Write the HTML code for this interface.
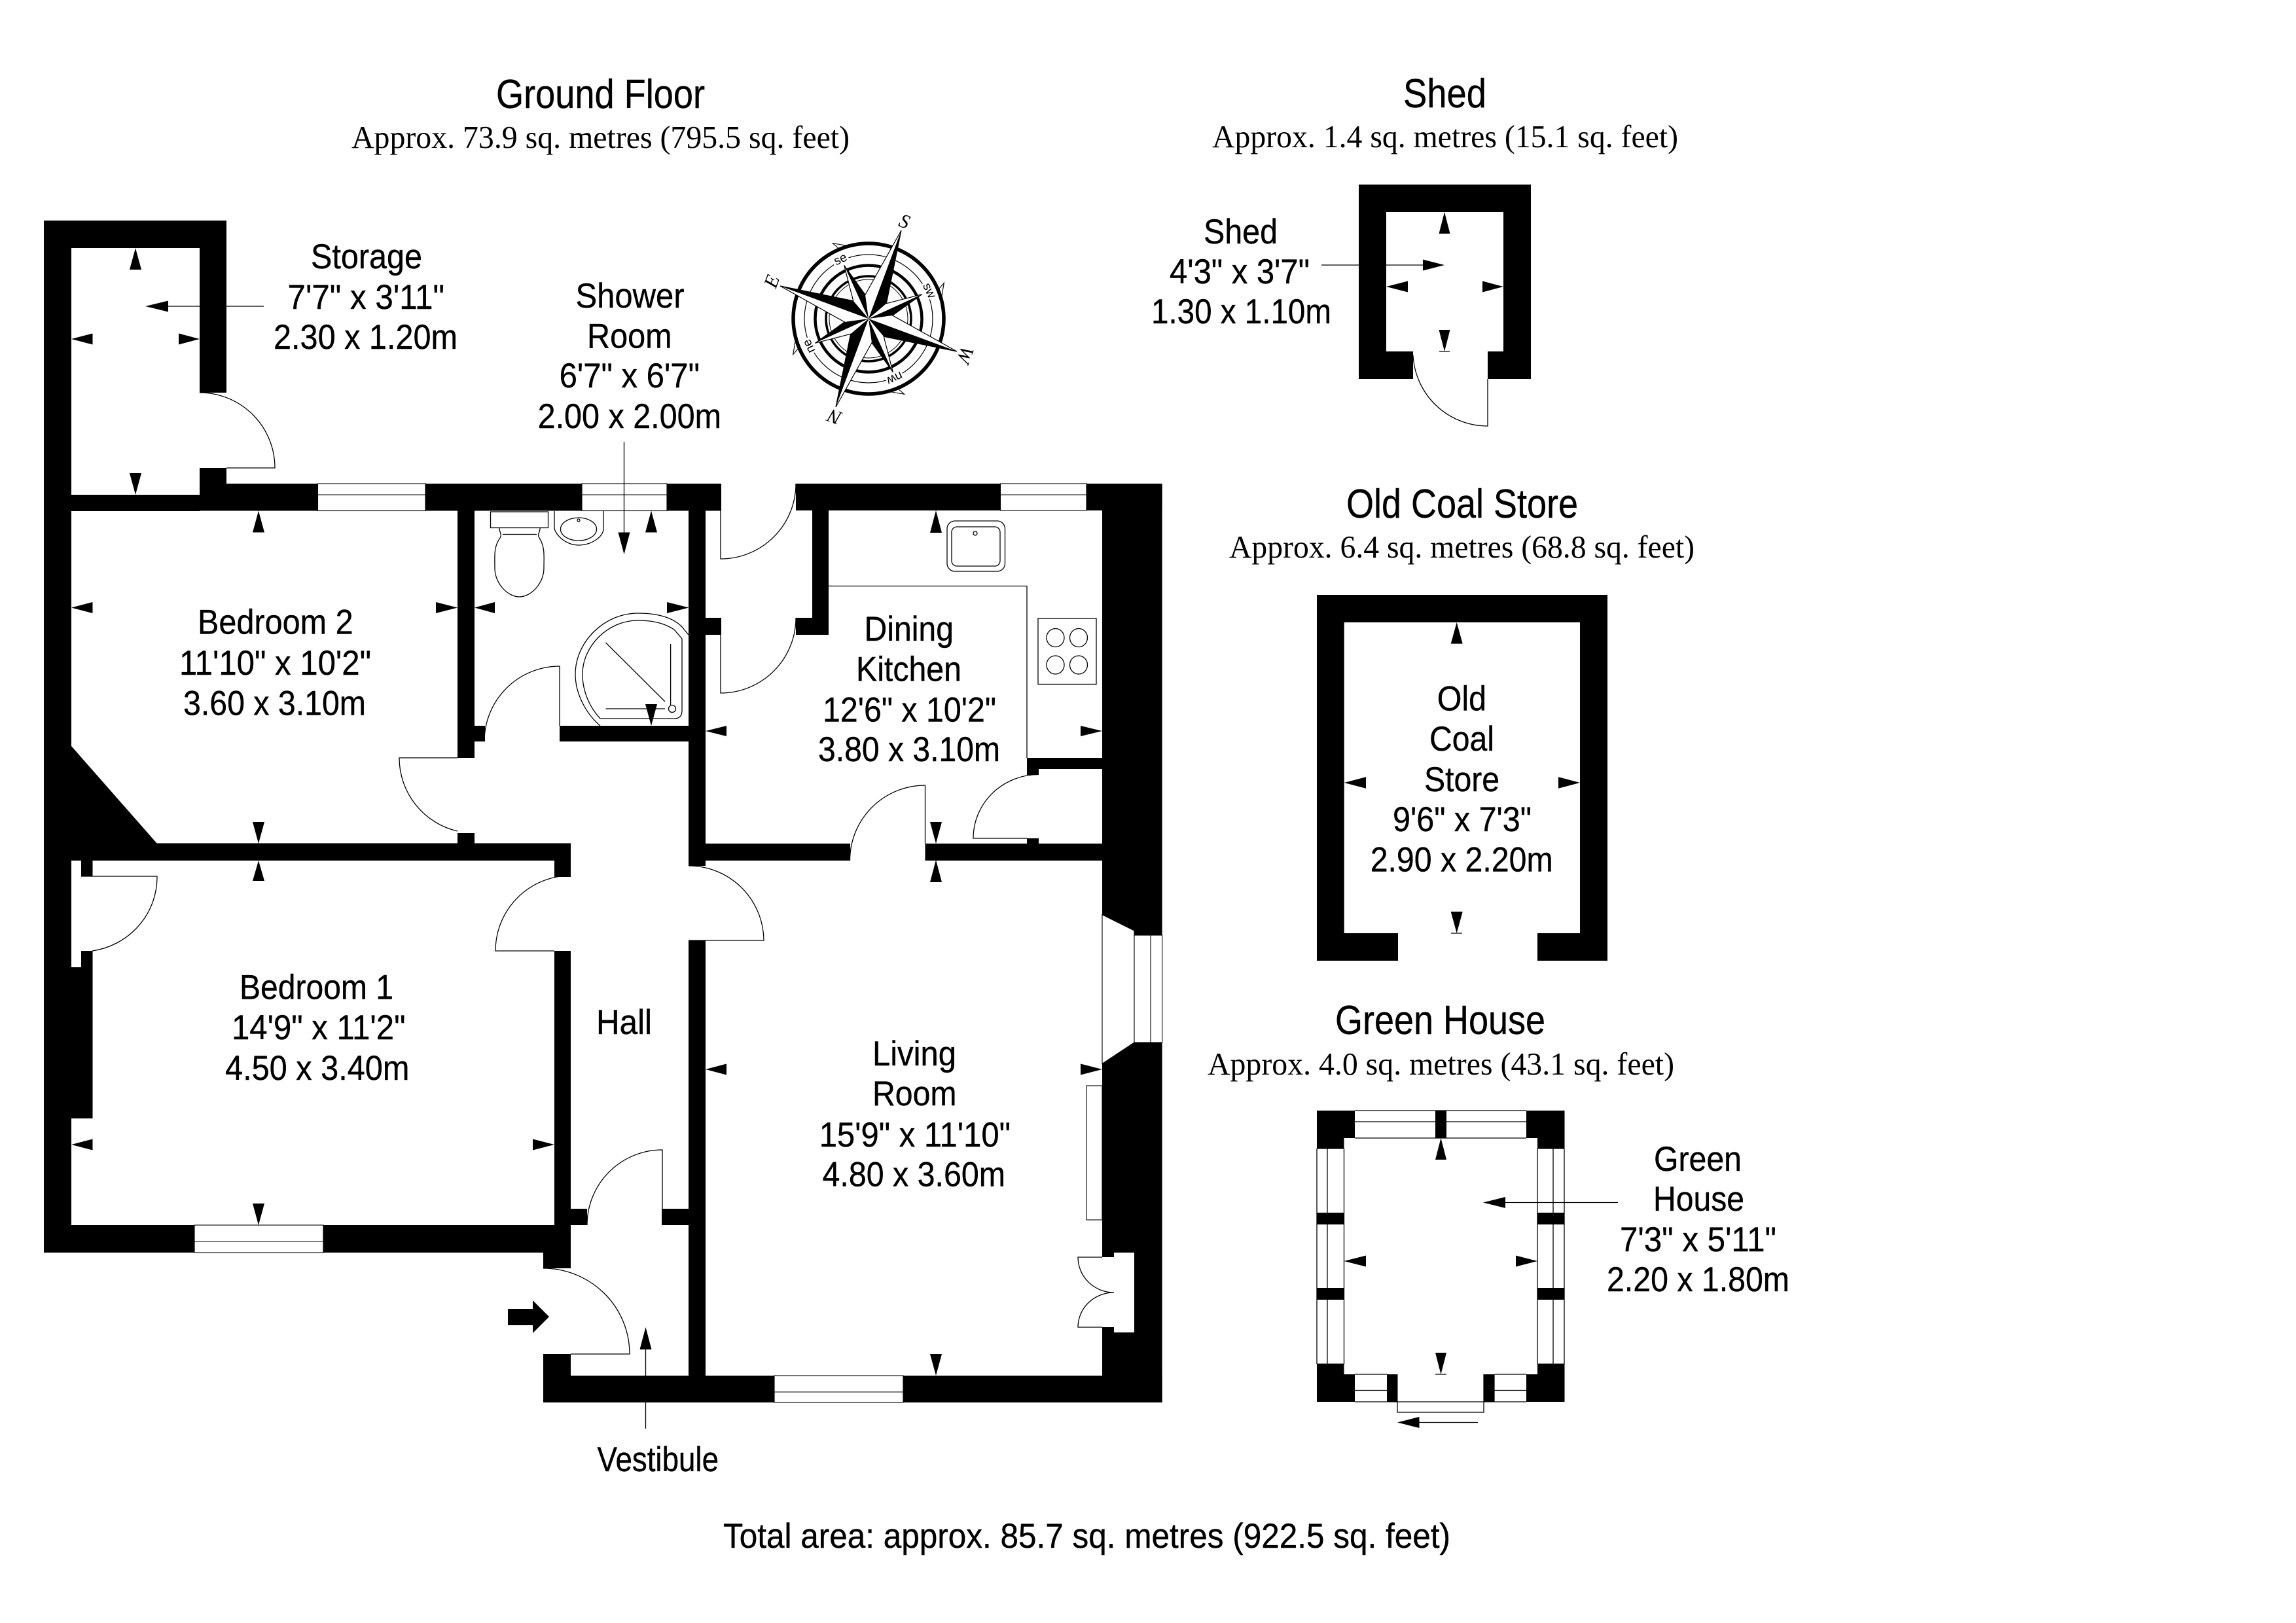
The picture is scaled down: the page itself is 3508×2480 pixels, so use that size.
<!DOCTYPE html>
<html><head><meta charset="utf-8"><title>Floor plan</title>
<style>
html,body{margin:0;padding:0;background:#fff}
svg{display:block}
.s{font-family:"Liberation Sans",Arial,sans-serif;fill:#000;stroke:#000;stroke-width:.4;font-size:53px}
.t{font-family:"Liberation Sans",Arial,sans-serif;fill:#000;stroke:#000;stroke-width:.4;font-size:62px}
.r{font-family:"Liberation Serif","Times New Roman",serif;fill:#000;font-size:49px}
.l{fill:none;stroke:#000;stroke-width:1.3}
.w{fill:#fff;stroke:#000;stroke-width:1.1}
.g{fill:#fff;stroke:#000;stroke-width:1.6}
.c{fill:#fff;stroke:#000;stroke-width:1.2}
</style></head><body>
<svg xmlns="http://www.w3.org/2000/svg" width="3508" height="2480" viewBox="0 0 3508 2480">
<rect width="3508" height="2480" fill="#fff"/>

<!-- door swings and thin lines -->
<path class="l" d="M305 600A115 115 0 0 1 420 715H346
M855 1109V1018A115 115 0 0 0 740 1133
M699 1158H610A115 115 0 0 0 699 1270
M124 1339H240A116 114 0 0 1 141 1453
M847 1453H757A115 115 0 0 1 872 1338
M1012 1847V1757A115 115 0 0 0 897 1872
M830 1938A132 131 0 0 1 962 2069H872
M1101 780V854A115 115 0 0 0 1216 739
M1101 970V1059A115 115 0 0 0 1216 944
M1413.5 1289V1200A115 115 0 0 0 1298.5 1315
M1587 1183.5A100 97.5 0 0 0 1487 1281H1569
M1052 1323A115 115 0 0 1 1167 1437H1052
M2159 543A114 114 0 0 0 2273 651V579
M1266 895.5H1569V1158"/>

<!-- ground floor walls -->
<g fill="#000">
<rect x="67" y="337" width="279" height="42"/>
<rect x="67" y="337" width="42" height="1577"/>
<rect x="305" y="337" width="41" height="263"/>
<rect x="305" y="715" width="41" height="24"/>
<rect x="109" y="756" width="196" height="25"/>
<rect x="305" y="739" width="181" height="41.5"/>
<rect x="650" y="739" width="239" height="41.5"/>
<rect x="1019" y="739" width="83" height="41.5"/>
<rect x="699" y="780" width="26" height="378"/>
<rect x="725" y="1109" width="16" height="24"/>
<rect x="699" y="1273" width="26" height="16"/>
<rect x="109" y="1288.5" width="763" height="26.5"/>
<polygon points="109,1140 240,1289 240,1315 109,1315"/>
<rect x="124" y="1315" width="17.5" height="24"/>
<rect x="124" y="1453" width="17.5" height="25"/>
<rect x="67" y="1478" width="74.5" height="231"/>
<rect x="847" y="1315" width="25" height="25"/>
<rect x="847" y="1453" width="25" height="461"/>
<rect x="67" y="1872" width="230" height="42"/>
<rect x="494" y="1872" width="353" height="42"/>
<rect x="830" y="1914" width="42" height="24"/>
<rect x="872" y="1847" width="25" height="25"/>
<rect x="1011" y="1847" width="41" height="25"/>
<rect x="1052" y="780" width="26" height="543"/>
<rect x="1052" y="1437.5" width="26" height="665"/>
<rect x="1078" y="944" width="24" height="26"/>
<rect x="855" y="1109" width="197" height="24"/>
<rect x="1216" y="739" width="312.5" height="41"/>
<rect x="1660" y="739" width="115.6" height="41"/>
<rect x="1684" y="739" width="91.6" height="1404"/>
<rect x="1241" y="780" width="25" height="190"/>
<rect x="1216" y="944" width="50" height="26"/>
<rect x="1569" y="1158" width="115" height="17"/>
<rect x="1569" y="1175" width="18" height="9"/>
<rect x="1569" y="1281" width="18" height="8"/>
<rect x="1078" y="1289" width="221" height="26"/>
<rect x="1413.5" y="1289" width="270.5" height="26"/>
<rect x="830" y="2102" width="353" height="41"/>
<rect x="1380" y="2102" width="395.6" height="41"/>
<rect x="830" y="2069" width="42" height="33"/>
</g>

<!-- windows -->
<rect class="w" x="485.5" y="739" width="164.5" height="41.5"/><path class="w" d="M485.5 756H650"/>
<rect class="w" x="889" y="739" width="130" height="41.5"/><path class="w" d="M889 756H1019"/>
<rect class="w" x="1528.5" y="739" width="131.5" height="41"/><path class="w" d="M1528.5 756H1660"/>
<rect class="w" x="297" y="1872" width="197" height="42"/><path class="w" d="M297 1897H494"/>
<rect class="w" x="1183" y="2102" width="197" height="41"/><path class="w" d="M1183 2127H1380"/>

<!-- bay window -->
<polygon points="1684,1397.6 1733,1422 1733,1593 1684,1625.5" fill="#fff" stroke="#000" stroke-width="1.1"/>
<rect class="w" x="1733" y="1429" width="42.6" height="164"/><path class="w" d="M1758 1429V1593"/>
<rect class="w" x="1660" y="1659" width="24" height="205"/>

<!-- french door recess -->
<rect x="1684" y="1921" width="18.5" height="107" fill="#fff"/>
<rect x="1702" y="1914" width="31" height="122" fill="#fff"/>
<path class="l" d="M1684 1921H1647A55 54 0 0 0 1702 1975A55 53 0 0 0 1647 2028H1684"/>

<!-- fixtures -->
<rect class="l" x="749.5" y="782" width="88" height="24.5"/>
<path class="l" d="M763 806.5C762 812 768 816 764 822C754 836 756 850 756 868C756 892 776 912 793.5 912C811 912 831 892 831 868C831 850 833 836 824 822C820 816 826 812 825 806.5"/>
<path class="l" d="M768 816.5H820"/>
<path class="l" d="M847 781V808C852 822 868 833 884 833C904 833 922 820 922 808V781"/>
<ellipse class="l" cx="884" cy="808.6" rx="27.5" ry="17.5"/>
<circle class="l" cx="884" cy="795" r="2"/>
<path class="l" d="M1052 970L1042 958C1028 943 1003 937 975 937C922 937 879 982 879 1030C879 1060 895 1090 917 1109"/>
<path class="l" d="M917 1098H1030Q1042 1098 1042 1086V976L1030 962C1015 952 995 948 975 948C928 948 890 988 890 1030C890 1058 902 1082 917 1098"/>
<path class="l" d="M925.5 982L1016 1072M1024.6 984V1077M925.5 1083H1016"/>
<circle class="l" cx="1027" cy="1083" r="5.5"/>
<rect class="l" x="1447" y="796" width="88.5" height="77" rx="12"/>
<rect class="l" x="1454" y="805" width="74" height="60" rx="8"/>
<circle class="l" cx="1490" cy="815" r="3"/>
<rect class="l" x="1586" y="945" width="89" height="100.5"/>
<ellipse class="l" cx="1612.5" cy="974.5" rx="13.5" ry="14"/>
<ellipse class="l" cx="1648" cy="974.5" rx="13.5" ry="14"/>
<ellipse class="l" cx="1612.5" cy="1016" rx="13.5" ry="14"/>
<ellipse class="l" cx="1648" cy="1016" rx="13.5" ry="14"/>

<!-- ground floor arrows -->
<g fill="#000">
<polygon points="207,379 198,412 216,412"/><polygon points="207,756 198,723 216,723"/>
<polygon points="109,518 141.5,509.5 141.5,526.5"/><polygon points="305,518 273,509.5 273,526.5"/>
<polygon points="222,468 257,459.5 257,476.5"/>
<polygon points="395,780.5 386,813.5 404,813.5"/><polygon points="395,1289 386,1256 404,1256"/>
<polygon points="109,928.5 141.5,920 141.5,937"/><polygon points="699,928.5 666,920 666,937"/>
<polygon points="725,928.5 756,920 756,937"/><polygon points="1052.5,928.5 1019,920 1019,937"/>
<polygon points="995,780.5 986,813.5 1004,813.5"/><polygon points="995,1109 986,1076 1004,1076"/>
<polygon points="953.5,847 944.5,813.5 962.5,813.5"/>
<polygon points="395,1315 386,1346 404,1346"/><polygon points="395,1872 386,1839 404,1839"/>
<polygon points="109,1749 141.5,1740.5 141.5,1757.5"/><polygon points="847,1749 814,1740.5 814,1757.5"/>
<polygon points="1078,1117 1110,1109 1110,1125"/><polygon points="1684,1117 1651,1109 1651,1125"/>
<polygon points="1430,780 1421,814 1439,814"/><polygon points="1430,1289 1421,1256 1439,1256"/>
<polygon points="1430,1314 1421,1348 1439,1348"/><polygon points="1430,2102 1421,2069 1439,2069"/>
<polygon points="1078,1634 1110,1625.5 1110,1642.5"/><polygon points="1684,1634 1651,1625.5 1651,1642.5"/>
<polygon points="986.5,2028 977.5,2062 995.5,2062"/>
<polygon points="776,2000 814,2000 814,1987 839,2012 814,2037 814,2025 776,2025"/>
</g>
<path class="l" d="M257 468H403M953.5 675V813.5M986.5 2062V2183"/>

<!-- compass -->
<g transform="translate(1327,487)">
<g fill="#fff" stroke="#000" stroke-width="1.1">
<polygon points="-54.7,-115.3 -45,-107 -35,-112"/>
<polygon points="115.3,-54.7 107,-45 112,-35"/>
<polygon points="54.7,115.3 45,107 35,112"/>
<polygon points="-115.3,54.7 -107,45 -112,35"/>
</g>
<circle r="115" fill="#fff" stroke="#000" stroke-width="5.5"/>
<circle r="98" fill="none" stroke="#000" stroke-width="1.2"/>
<circle r="81.5" fill="none" stroke="#000" stroke-width="4.5"/>
<circle r="65" fill="none" stroke="#000" stroke-width="3.5"/>
<circle r="60" fill="none" stroke="#000" stroke-width="1"/>
<polygon class="c" points="50,-135 27.3,-23.3 81.7,-37.3 36.7,-5 135,50 23.3,27.3 37.3,81.7 5,36.7 -50,135 -27.3,23.3 -81.7,37.3 -36.7,5 -135,-50 -23.3,-27.3 -37.3,-81.7 -5,-36.7"/>
<g id="q" fill="#000"><polygon points="50,-135 36.7,-70 27.3,-23.3 0,0"/><polygon points="81.7,-37.3 36.7,-5 0,0"/></g>
<use href="#q" transform="rotate(90)"/>
<use href="#q" transform="rotate(180)"/>
<use href="#q" transform="rotate(270)"/>
</g>
<g font-family="'Liberation Serif',serif" font-style="italic" font-size="30" fill="#000" text-anchor="middle">
<text transform="translate(1382,338) rotate(20)" y="10">S</text>
<text transform="translate(1179,430) rotate(-70)" y="10">E</text>
<text transform="translate(1475,542) rotate(110)" y="10">W</text>
<text transform="translate(1275,637) rotate(200)" y="10">N</text>
</g>
<g font-family="'Liberation Sans',sans-serif" font-size="19" fill="#000" text-anchor="middle" stroke="#fff" stroke-width="6" paint-order="stroke">
<text transform="translate(1284,396) rotate(-25)" y="6">se</text>
<text transform="translate(1420,444) rotate(65)" y="6">sw</text>
<text transform="translate(1367,578) rotate(155)" y="6">nw</text>
<text transform="translate(1236,529) rotate(245)" y="6">ne</text>
</g>

<!-- shed -->
<path fill="#000" d="M2076 282H2339V579H2273V537H2297V324H2118V537H2159V579H2076Z"/>
<g fill="#000">
<polygon points="2207,324 2198.5,357 2215.5,357"/><polygon points="2207,537 2198.5,504 2215.5,504"/>
<polygon points="2118,438 2151,429.5 2151,446.5"/><polygon points="2297,438 2265,429.5 2265,446.5"/>
<polygon points="2207,405 2174,396.5 2174,413.5"/>
</g>
<path class="l" d="M2019 405H2174M2199 537H2215"/>

<!-- old coal store -->
<path fill="#000" d="M2012 909H2456V1468H2349V1426H2414V951H2053.7V1426H2136V1468H2012Z"/>
<g fill="#000">
<polygon points="2225.7,951 2216.7,983.6 2234.7,983.6"/><polygon points="2225.7,1426 2216.7,1393 2234.7,1393"/>
<polygon points="2053.7,1196 2087,1187.3 2087,1204.7"/><polygon points="2414,1196 2381,1187.3 2381,1204.7"/>
</g>
<path class="l" d="M2217 1426H2234"/>

<!-- green house -->
<path class="l" d="M2070 1697H2332M2070 1714H2332M2070 1739H2332M2012 1755V2084M2028 1755V2084M2053.5 1755V2084M2349 1755V2084M2373 1755V2084M2390 1755V2084"/>
<path class="l" d="M2070 2100H2119M2283.6 2100H2332M2070 2124.5H2119M2283.6 2124.5H2332M2070 2142H2332"/>
<path class="l" d="M2135 2142V2158H2267V2142"/>
<g fill="#000">
<rect x="2012" y="1697" width="58" height="42"/><rect x="2012" y="1739" width="41.5" height="16.6"/>
<rect x="2332" y="1697" width="58.5" height="42"/><rect x="2349" y="1739" width="41.5" height="16.6"/>
<rect x="2012" y="2083.6" width="41.5" height="58.4"/><rect x="2053" y="2100" width="17" height="42"/>
<rect x="2349" y="2083.6" width="41.5" height="58.4"/><rect x="2332" y="2100" width="17" height="42"/>
<rect x="2193" y="1697" width="17" height="42"/>
<rect x="2012" y="1853" width="41.5" height="18"/><rect x="2012" y="1968" width="41.5" height="18"/>
<rect x="2349" y="1853" width="41.5" height="18"/><rect x="2349" y="1968" width="41.5" height="18"/>
<rect x="2119" y="2100" width="16.5" height="42"/><rect x="2266.4" y="2100" width="17.2" height="42"/>
<polygon points="2201.5,1739 2193,1772 2210,1772"/><polygon points="2201.5,2100 2193,2067 2210,2067"/>
<polygon points="2053.5,1927 2087,1918.5 2087,1935.5"/><polygon points="2349,1927 2316,1918.5 2316,1935.5"/>
<polygon points="2266,1837.5 2300,1829 2300,1846"/>
<polygon points="2135,2173.5 2168.5,2165 2168.5,2182"/>
</g>
<path class="l" d="M2300 1837.5H2472M2168.5 2173.5H2258M2193 2100H2210"/>

<!-- titles -->
<text class="t" x="758" y="165" textLength="319" lengthAdjust="spacingAndGlyphs">Ground Floor</text>
<text class="r" x="537" y="226" textLength="761" lengthAdjust="spacingAndGlyphs">Approx. 73.9 sq. metres (795.5 sq. feet)</text>
<text class="t" x="2144" y="164" textLength="127" lengthAdjust="spacingAndGlyphs">Shed</text>
<text class="r" x="1852" y="225" textLength="712" lengthAdjust="spacingAndGlyphs">Approx. 1.4 sq. metres (15.1 sq. feet)</text>
<text class="t" x="2057" y="791" textLength="354" lengthAdjust="spacingAndGlyphs">Old Coal Store</text>
<text class="r" x="1878" y="852" textLength="711" lengthAdjust="spacingAndGlyphs">Approx. 6.4 sq. metres (68.8 sq. feet)</text>
<text class="t" x="2040" y="1580" textLength="321" lengthAdjust="spacingAndGlyphs">Green House</text>
<text class="r" x="1845" y="1642" textLength="713" lengthAdjust="spacingAndGlyphs">Approx. 4.0 sq. metres (43.1 sq. feet)</text>
<text class="s" x="1105" y="2365" textLength="1111" lengthAdjust="spacingAndGlyphs">Total area: approx. 85.7 sq. metres (922.5 sq. feet)</text>

<!-- room labels -->
<text class="s" x="475" y="410" textLength="170" lengthAdjust="spacingAndGlyphs">Storage</text>
<text class="s" x="439.5" y="472" textLength="239.5" lengthAdjust="spacingAndGlyphs">7'7" x 3'11"</text>
<text class="s" x="418" y="533" textLength="281" lengthAdjust="spacingAndGlyphs">2.30 x 1.20m</text>

<text class="s" x="879.5" y="470" textLength="166" lengthAdjust="spacingAndGlyphs">Shower</text>
<text class="s" x="897" y="531.5" textLength="129.6" lengthAdjust="spacingAndGlyphs">Room</text>
<text class="s" x="854.6" y="592" textLength="214.4" lengthAdjust="spacingAndGlyphs">6'7" x 6'7"</text>
<text class="s" x="821.6" y="654" textLength="280.4" lengthAdjust="spacingAndGlyphs">2.00 x 2.00m</text>

<text class="s" x="302" y="968.5" textLength="237.6" lengthAdjust="spacingAndGlyphs">Bedroom 2</text>
<text class="s" x="274" y="1031" textLength="293" lengthAdjust="spacingAndGlyphs">11'10" x 10'2"</text>
<text class="s" x="280" y="1092.7" textLength="279" lengthAdjust="spacingAndGlyphs">3.60 x 3.10m</text>

<text class="s" x="366" y="1526.6" textLength="235" lengthAdjust="spacingAndGlyphs">Bedroom 1</text>
<text class="s" x="354" y="1588" textLength="265.5" lengthAdjust="spacingAndGlyphs">14'9" x 11'2"</text>
<text class="s" x="344" y="1650" textLength="281.4" lengthAdjust="spacingAndGlyphs">4.50 x 3.40m</text>

<text class="s" x="911" y="1580" textLength="85" lengthAdjust="spacingAndGlyphs">Hall</text>
<text class="s" x="912.5" y="2248" textLength="185.5" lengthAdjust="spacingAndGlyphs">Vestibule</text>

<text class="s" x="1320.5" y="979" textLength="136.5" lengthAdjust="spacingAndGlyphs">Dining</text>
<text class="s" x="1308" y="1040.6" textLength="161" lengthAdjust="spacingAndGlyphs">Kitchen</text>
<text class="s" x="1257" y="1102.7" textLength="265" lengthAdjust="spacingAndGlyphs">12'6" x 10'2"</text>
<text class="s" x="1250" y="1163" textLength="278" lengthAdjust="spacingAndGlyphs">3.80 x 3.10m</text>

<text class="s" x="1333" y="1628" textLength="128" lengthAdjust="spacingAndGlyphs">Living</text>
<text class="s" x="1333" y="1689" textLength="128.6" lengthAdjust="spacingAndGlyphs">Room</text>
<text class="s" x="1251.7" y="1752" textLength="292.3" lengthAdjust="spacingAndGlyphs">15'9" x 11'10"</text>
<text class="s" x="1256.5" y="1812.6" textLength="279.5" lengthAdjust="spacingAndGlyphs">4.80 x 3.60m</text>

<text class="s" x="1839" y="372" textLength="113" lengthAdjust="spacingAndGlyphs">Shed</text>
<text class="s" x="1787" y="433" textLength="214" lengthAdjust="spacingAndGlyphs">4'3" x 3'7"</text>
<text class="s" x="1759" y="494" textLength="275" lengthAdjust="spacingAndGlyphs">1.30 x 1.10m</text>

<text class="s" x="2195.7" y="1085.6" textLength="75.3" lengthAdjust="spacingAndGlyphs">Old</text>
<text class="s" x="2184" y="1147" textLength="99" lengthAdjust="spacingAndGlyphs">Coal</text>
<text class="s" x="2176" y="1209" textLength="115" lengthAdjust="spacingAndGlyphs">Store</text>
<text class="s" x="2128" y="1270" textLength="212" lengthAdjust="spacingAndGlyphs">9'6" x 7'3"</text>
<text class="s" x="2093.7" y="1331.6" textLength="279" lengthAdjust="spacingAndGlyphs">2.90 x 2.20m</text>

<text class="s" x="2527" y="1789" textLength="134" lengthAdjust="spacingAndGlyphs">Green</text>
<text class="s" x="2526" y="1850" textLength="139" lengthAdjust="spacingAndGlyphs">House</text>
<text class="s" x="2475" y="1912" textLength="239" lengthAdjust="spacingAndGlyphs">7'3" x 5'11"</text>
<text class="s" x="2455" y="1973" textLength="279" lengthAdjust="spacingAndGlyphs">2.20 x 1.80m</text>
</svg>
</body></html>
